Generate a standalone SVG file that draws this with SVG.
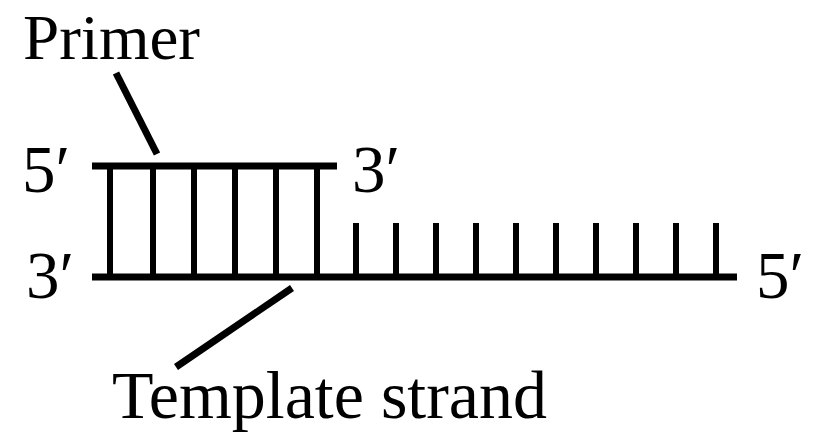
<svg xmlns="http://www.w3.org/2000/svg" width="833" height="438" viewBox="0 0 833 438">
<style>
text{font-family:"Liberation Serif","Times New Roman",serif;font-size:67px;fill:#000}
.s{stroke:#000;stroke-width:7;fill:none}
.r{stroke:#000;stroke-width:6;fill:none}
</style>
<rect width="833" height="438" fill="#fff"/>
<g id="labels">
<text x="23" y="59" style="font-size:64px" textLength="177" lengthAdjust="spacingAndGlyphs">Primer</text>
<text x="22" y="192">5′</text>
<text x="26" y="298">3′</text>
<text x="352" y="192">3′</text>
<text x="756" y="298">5′</text>
<text x="112" y="418" textLength="435" lengthAdjust="spacingAndGlyphs">Template strand</text>
</g>
<g id="primer-strand">
<line class="s" x1="92" y1="166" x2="337" y2="166"/>
</g>
<g id="template-strand-line">
<line class="s" x1="92" y1="277" x2="737" y2="277"/>
</g>
<g id="paired-bases">
<line class="r" x1="110" y1="166" x2="110" y2="277"/>
<line class="r" x1="153" y1="166" x2="153" y2="277"/>
<line class="r" x1="194" y1="166" x2="194" y2="277"/>
<line class="r" x1="235" y1="166" x2="235" y2="277"/>
<line class="r" x1="276" y1="166" x2="276" y2="277"/>
<line class="r" x1="317" y1="166" x2="317" y2="277"/>
</g>
<g id="unpaired-bases">
<line class="r" x1="356" y1="223" x2="356" y2="277"/>
<line class="r" x1="396" y1="223" x2="396" y2="277"/>
<line class="r" x1="436" y1="223" x2="436" y2="277"/>
<line class="r" x1="476" y1="223" x2="476" y2="277"/>
<line class="r" x1="516" y1="223" x2="516" y2="277"/>
<line class="r" x1="556" y1="223" x2="556" y2="277"/>
<line class="r" x1="596" y1="223" x2="596" y2="277"/>
<line class="r" x1="636" y1="223" x2="636" y2="277"/>
<line class="r" x1="676" y1="223" x2="676" y2="277"/>
<line class="r" x1="716" y1="223" x2="716" y2="277"/>
</g>
<g id="connectors">
<line class="s" x1="116" y1="73" x2="157" y2="154"/>
<line class="s" x1="292" y1="288" x2="176" y2="367"/>
</g>
</svg>
